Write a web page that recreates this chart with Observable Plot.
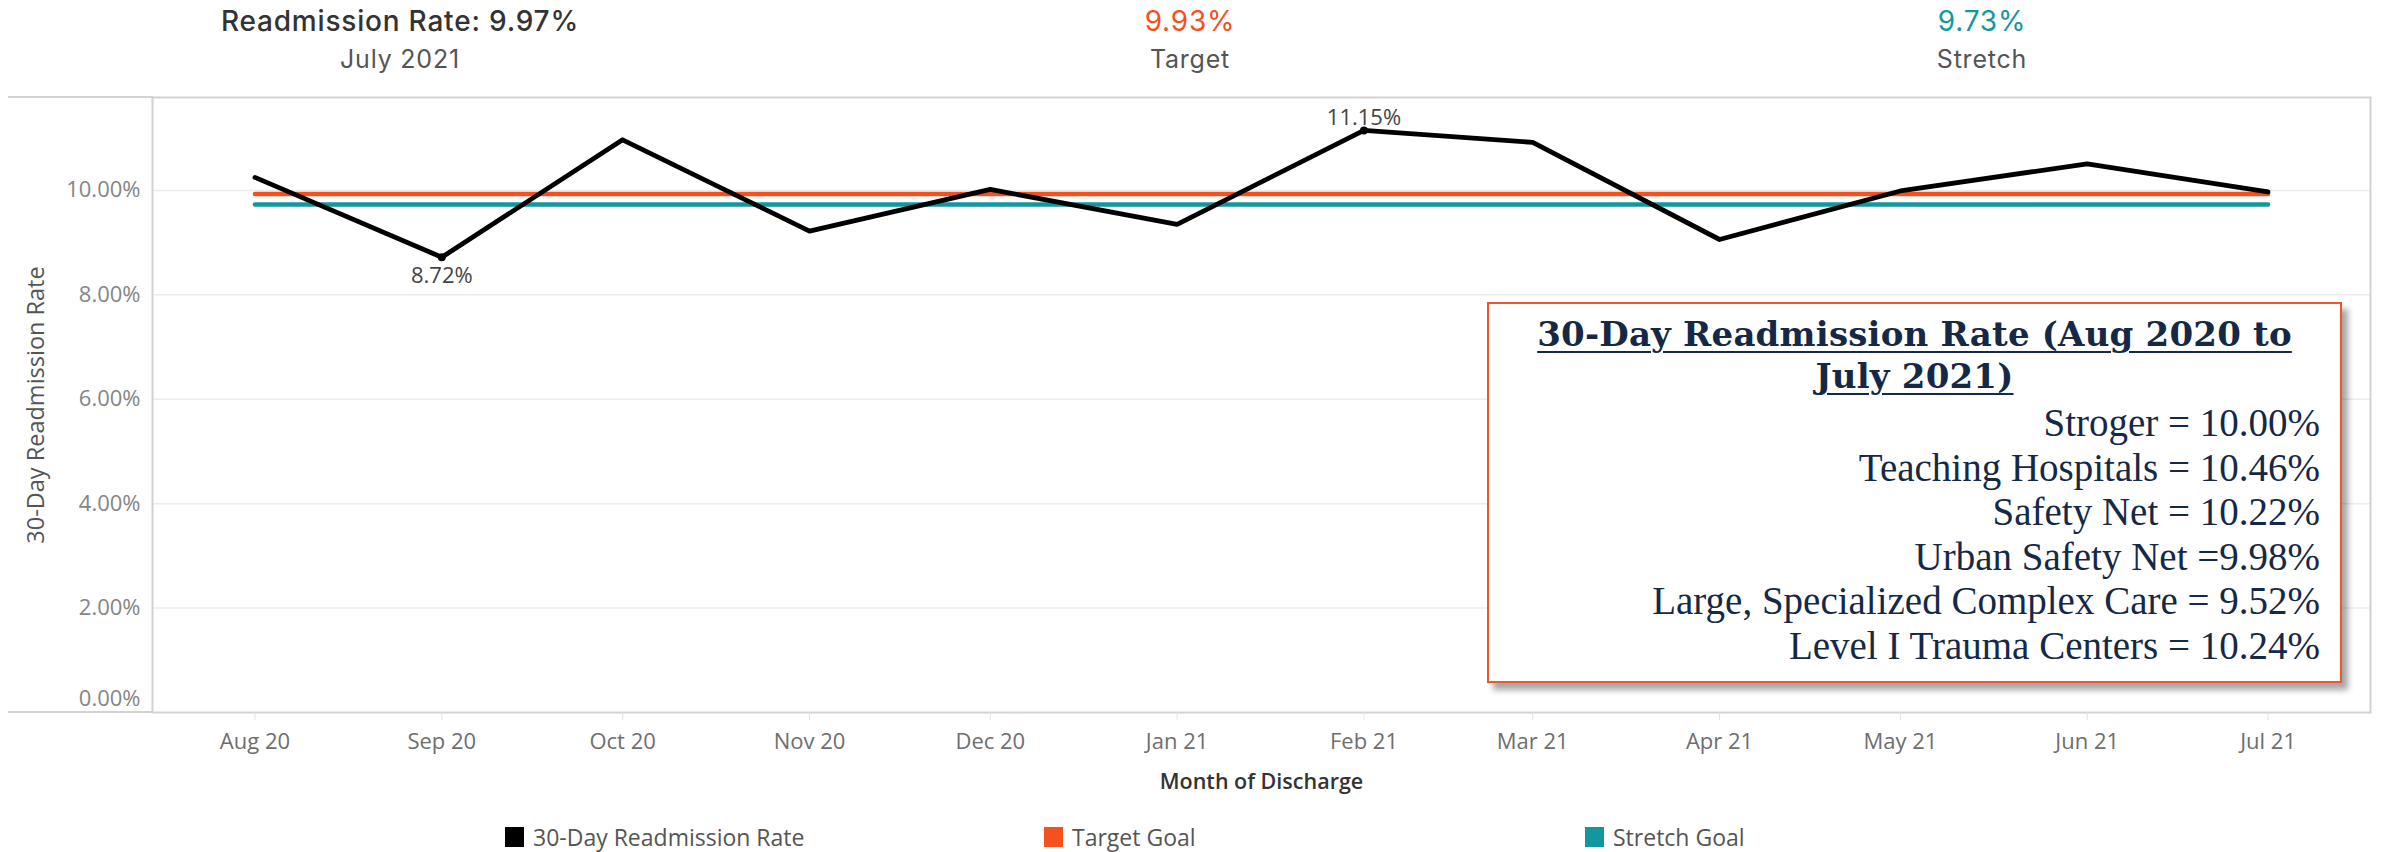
<!DOCTYPE html>
<html>
<head>
<meta charset="utf-8">
<script src="https://cdn.jsdelivr.net/npm/d3@7"></script>
<script src="https://cdn.jsdelivr.net/npm/@observablehq/plot@0.6"></script>
<style>
html,body{margin:0;padding:0;background:#fff;}
#root{position:relative;width:2381px;height:852px;overflow:hidden;font-family:'Open Sans',sans-serif;}
.kpi{position:absolute;width:600px;margin-left:-300px;text-align:center;font-family:Inter,sans-serif;letter-spacing:0.8px;}
.kpi .v{position:absolute;left:0;right:0;top:7px;font-size:28px;line-height:28px;font-weight:500;color:#333;}
.kpi .s{position:absolute;left:0;right:0;top:47px;font-size:25px;line-height:25px;font-weight:400;color:#555;}
#chart{position:absolute;left:0;top:80px;}
.ext{position:absolute;left:8px;width:145px;height:2px;background:#d2d2d2;}
#box{position:absolute;left:1487px;top:302px;width:855px;height:381px;box-sizing:border-box;border:2px solid #ee5530;background:#fff;box-shadow:6px 7px 6px rgba(0,0,0,0.35);font-family:'Liberation Serif',serif;color:#152846;}
#box .title{position:absolute;left:0;right:0;top:9px;text-align:center;font-family:'DejaVu Serif',serif;font-weight:bold;font-size:34px;line-height:42px;letter-spacing:0.2px;}
#box .title span{text-decoration:underline;text-decoration-thickness:2px;text-underline-offset:5px;}
#box .lines{position:absolute;right:20px;top:97px;text-align:right;font-size:39px;line-height:44.6px;}
#legend .item{position:absolute;top:826px;height:23px;font-size:23px;line-height:23px;color:#555;}
#legend .sw{position:absolute;top:1px;width:19px;height:20px;}
</style>
</head>
<body>
<div id="root">
  <div id="header"></div>
  <div id="chart"></div>
  <div class="ext" style="top:96px"></div>
  <div class="ext" style="top:711px"></div>
  <div id="box"><div class="title"></div><div class="lines"></div></div>
  <div id="legend"></div>
</div>
<script>
// ---- data ----
const months = ["2020-08-01","2020-09-01","2020-10-01","2020-11-01","2020-12-01","2021-01-01",
                "2021-02-01","2021-03-01","2021-04-01","2021-05-01","2021-06-01","2021-07-01"];
const readmissionRate = [10.25, 8.72, 10.97, 9.22, 10.02, 9.35, 11.15, 10.92, 9.06, 9.99, 10.51, 9.97];
const targetGoal = 9.93;
const stretchGoal = 9.73;
const yTicks = [0, 2, 4, 6, 8, 10];
const seriesNames = ["30-Day Readmission Rate", "Target Goal", "Stretch Goal"];
const seriesColors = ["#000000", "#f4511e", "#13979f"];
const headerValues = ["Readmission Rate: 9.97%", "9.93%", "9.73%"];
const headerLabels = ["July 2021", "Target", "Stretch"];
const headerColors = ["#333333", "#f4511e", "#13979f"];
const boxTitle = ["30-Day Readmission Rate (Aug 2020 to", "July 2021)"];
const benchmarkNames = ["Stroger", "Teaching Hospitals", "Safety Net", "Urban Safety Net", "Large, Specialized Complex Care", "Level I Trauma Centers"];
const benchmarkSeps = [" = ", " = ", " = ", " =", " = ", " = "];
const benchmarkValues = ["10.00%", "10.46%", "10.22%", "9.98%", "9.52%", "10.24%"];

// ---- header ----
const headerX = [400, 1190, 1982];
const header = document.getElementById("header");
headerValues.forEach((v, i) => {
  const d = document.createElement("div");
  d.className = "kpi";
  d.style.left = headerX[i] + "px";
  d.innerHTML = `<div class="v" style="color:${headerColors[i]};font-weight:${i===0?500:400}">${v}</div><div class="s">${headerLabels[i]}</div>`;
  header.appendChild(d);
});

// ---- chart ----
const data = months.map((m, i) => ({date: new Date(m), rate: readmissionRate[i]}));
const first = data[0].date, last = data[data.length - 1].date;
const fmtPct = d => d.toFixed(2) + "%";

const chart = Plot.plot({
  width: 2381,
  height: 730,
  marginTop: 17,
  marginLeft: 152,
  marginRight: 11,
  marginBottom: 98,
  style: {fontFamily: "'Open Sans', sans-serif", fontSize: "22px", background: "transparent", overflow: "visible"},
  x: {type: "utc", domain: [d3.utcDay.offset(first, -17), d3.utcDay.offset(last, 17)]},
  y: {domain: [0, 11.78]},
  marks: [
    Plot.gridY(yTicks.filter(d => d > 0), {stroke: "#ececec", strokeOpacity: 1, strokeWidth: 1.5}),
    Plot.frame({stroke: "#d2d2d2", strokeWidth: 2}),
    Plot.axisY(yTicks.filter(d => d > 0), {tickSize: 0, tickPadding: 12, tickFormat: fmtPct, fill: "#858585", label: null, fontSize: 22}),
    Plot.axisY([0], {tickSize: 0, tickPadding: 12, tickFormat: fmtPct, fill: "#858585", label: null, dy: -14, fontSize: 22}),
    Plot.axisX(data.map(d => d.date), {tickSize: 8, tickPadding: 13, stroke: "#e2e2e2", strokeOpacity: 1, tickFormat: d3.utcFormat("%b %y"), fill: "#6e6e6e", label: null, fontSize: 22}),
    Plot.text(["Month of Discharge"], {frameAnchor: "bottom", dy: 76, fill: "#333", fontWeight: 600, fontSize: 21.5}),
    Plot.text(["30-Day Readmission Rate"], {frameAnchor: "left", textAnchor: "middle", dx: -116, rotate: -90, fill: "#555", fontWeight: 500, fontSize: 23.5}),
    Plot.lineY(data, {x: "date", y: () => targetGoal, stroke: seriesColors[1], strokeWidth: 4.5}),
    Plot.lineY(data, {x: "date", y: () => stretchGoal, stroke: seriesColors[2], strokeWidth: 4.5}),
    Plot.lineY(data, {x: "date", y: "rate", stroke: seriesColors[0], strokeWidth: 4.8}),
    Plot.dot(data, Plot.selectMinY({x: "date", y: "rate", fill: "#000", r: 4})),
    Plot.dot(data, Plot.selectMaxY({x: "date", y: "rate", fill: "#000", r: 4})),
    Plot.text(data, Plot.selectMinY({x: "date", y: "rate", text: d => fmtPct(d.rate), lineAnchor: "top", dy: 10, fill: "#444", fontSize: 22})),
    Plot.text(data, Plot.selectMaxY({x: "date", y: "rate", text: d => fmtPct(d.rate), lineAnchor: "bottom", dy: -5, fill: "#444", fontSize: 22}))
  ]
});
document.getElementById("chart").appendChild(chart);

// ---- annotation box ----
const box = document.getElementById("box");
box.querySelector(".title").innerHTML = boxTitle.map(t => `<div><span>${t}</span></div>`).join("");
box.querySelector(".lines").innerHTML = benchmarkNames.map((n, i) => `<div>${n}${benchmarkSeps[i]}${benchmarkValues[i]}</div>`).join("");

// ---- legend ----
const legendX = [505, 1044, 1585];
const legend = document.getElementById("legend");
seriesNames.forEach((n, i) => {
  const d = document.createElement("div");
  d.className = "item";
  d.style.left = legendX[i] + "px";
  d.innerHTML = `<div class="sw" style="background:${seriesColors[i]}"></div><div style="position:absolute;left:28px;white-space:nowrap">${n}</div>`;
  legend.appendChild(d);
});
</script>
</body>
</html>
